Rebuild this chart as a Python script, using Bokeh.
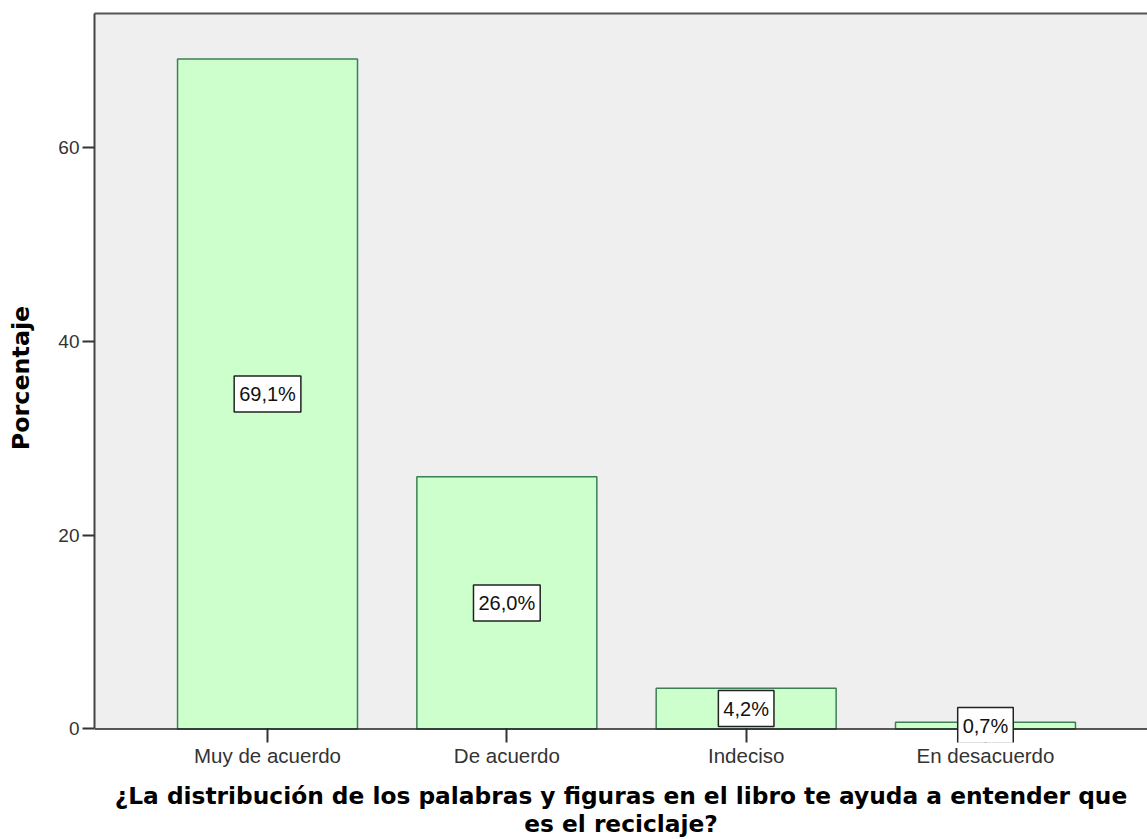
from bokeh.plotting import figure
from bokeh.models import Range1d, FixedTicker, LinearAxis, ColumnDataSource, Label, Span, BoxAnnotation
from bokeh.embed import file_html
from bokeh.resources import INLINE

categories = ["Muy de acuerdo", "De acuerdo", "Indeciso", "En desacuerdo"]
percentages = [69.1, 26.0, 4.2, 0.7]
y_ticks = [0, 20, 40, 60]
x_title = "¿La distribución de los palabras y figuras en el libro te ayuda a entender que\nes el reciclaje?"
y_title = "Porcentaje"

idx = list(range(len(categories)))
labels = [("%.1f" % v).replace(".", ",") + "%" for v in percentages]
mids = [v / 2 for v in percentages]

Y_TOP = 73.79
Y_BOTTOM = -1.40

src = ColumnDataSource(dict(x=idx, top=percentages))

p = figure(width=1147, height=839, output_backend="svg", toolbar_location=None,
           x_range=Range1d(-0.723, 3.677), y_range=Range1d(Y_BOTTOM, Y_TOP),
           min_border_left=94, min_border_right=0, min_border_top=13, min_border_bottom=0)

p.background_fill_color = "white"
p.border_fill_color = "white"
p.outline_line_color = None
p.xgrid.visible = False
p.ygrid.visible = False

p.add_layout(BoxAnnotation(bottom=0, fill_color="#EFEFEF", fill_alpha=1.0,
                           line_color=None, level="underlay"))

p.vbar(x="x", top="top", width=0.752, bottom=0, source=src,
       fill_color="#CCFFCC", line_color="#3d7f55", line_width=1.5)

p.add_layout(Span(location=0, dimension="width", line_color="#222222", line_width=1.5))

for xi, mi, lab in zip(idx, mids, labels):
    lbl = Label(x=xi, y=mi, text=lab, text_align="center", text_baseline="middle",
                text_font="Liberation Sans", text_font_size="20px", text_color="#111111",
                background_fill_color="white", border_line_color="#222222", border_line_width=1.5)
    for pad in (dict(left=5, right=5, top=7, bottom=7), dict(x=5, y=7), 6):
        try:
            lbl.padding = pad
            break
        except Exception:
            continue
    p.add_layout(lbl)

# x axis (sits at the frame bottom; ticks reach up to the baseline)
xa = p.xaxis[0]
xa.ticker = FixedTicker(ticks=idx)
xa.major_label_overrides = {i: c for i, c in zip(idx, categories)}
xa.major_label_text_font = "Liberation Sans"
xa.major_label_text_font_size = "20.5px"
xa.major_label_text_color = "#333333"
xa.major_label_standoff = 1
xa.major_tick_out = 0
xa.major_tick_in = 14
xa.minor_tick_out = 0
xa.minor_tick_in = 0
xa.major_tick_line_color = "#333333"
xa.major_tick_line_width = 2
xa.axis_line_color = None
xa.axis_label = x_title
xa.axis_label_text_font = "DejaVu Sans"
xa.axis_label_text_font_style = "bold"
xa.axis_label_text_font_size = "23.3px"
xa.axis_label_text_color = "#000000"
xa.axis_label_text_line_height = 1.04
xa.axis_label_standoff = 12

# y axis
ya = p.yaxis[0]
ya.ticker = FixedTicker(ticks=y_ticks)
ya.bounds = (0, Y_TOP)
ya.major_label_text_font = "Liberation Sans"
ya.major_label_text_font_size = "19px"
ya.major_label_text_color = "#333333"
ya.major_label_standoff = 3
ya.major_tick_out = 12
ya.major_tick_in = 0
ya.minor_tick_out = 0
ya.minor_tick_in = 0
ya.major_tick_line_color = "#333333"
ya.major_tick_line_width = 2
ya.axis_line_color = "#444444"
ya.axis_line_width = 2
ya.axis_label = y_title
ya.axis_label_text_font = "DejaVu Sans"
ya.axis_label_text_font_style = "bold"
ya.axis_label_text_font_size = "23.8px"
ya.axis_label_text_color = "#000000"
ya.axis_label_standoff = 20

# top border line
top_axis = LinearAxis(ticker=FixedTicker(ticks=[]), major_tick_out=0, major_tick_in=0,
                      minor_tick_out=0, minor_tick_in=0, major_label_standoff=0,
                      axis_line_color="#555555", axis_line_width=2)
p.add_layout(top_axis, "above")

open("out.html", "w").write(file_html(p, INLINE))
